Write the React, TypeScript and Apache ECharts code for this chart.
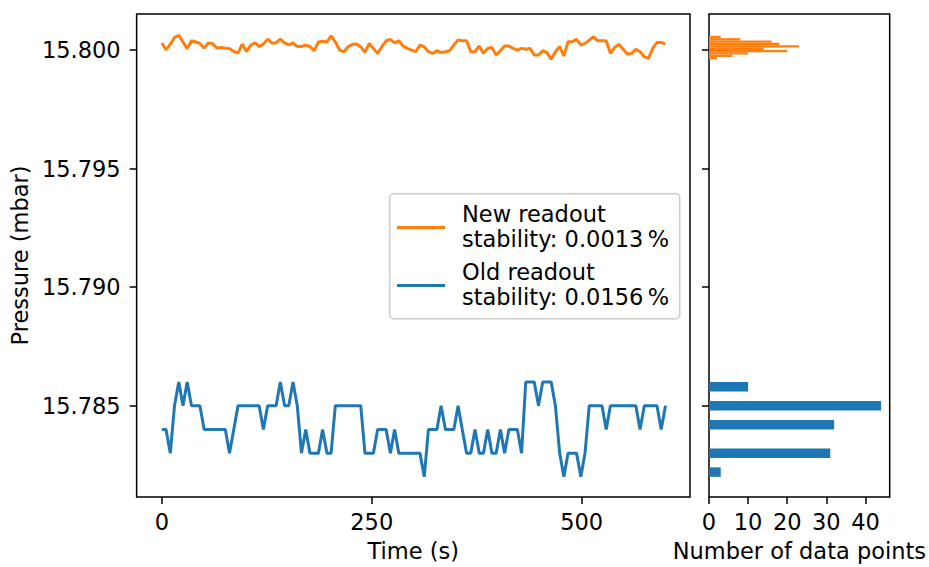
import React, { useEffect, useRef } from "react";
import * as echarts from "echarts";

// Time stamps (s)
const times = [
  0, 5.0, 10.1, 15.1, 20.2, 25.2, 30.2, 35.3, 40.3, 45.4,
  50.4, 55.4, 60.5, 65.5, 70.6, 75.6, 80.6, 85.7, 90.7, 95.8,
  100.8, 105.8, 110.9, 115.9, 121.0, 126.0, 131.0, 136.1, 141.1, 146.2,
  151.2, 156.2, 161.3, 166.3, 171.4, 176.4, 181.4, 186.5, 191.5, 196.6,
  201.6, 206.6, 211.7, 216.7, 221.8, 226.8, 231.8, 236.9, 241.9, 247.0,
  252.0, 257.0, 262.1, 267.1, 272.2, 277.2, 282.2, 287.3, 292.3, 297.4,
  302.4, 307.4, 312.5, 317.5, 322.6, 327.6, 332.6, 337.7, 342.7, 347.8,
  352.8, 357.8, 362.9, 367.9, 373.0, 378.0, 383.0, 388.1, 393.1, 398.2,
  403.2, 408.2, 413.3, 418.3, 423.4, 428.4, 433.4, 438.5, 443.5, 448.6,
  453.6, 458.6, 463.7, 468.7, 473.8, 478.8, 483.8, 488.9, 493.9, 499.0,
  504.0, 509.0, 514.1, 519.1, 524.2, 529.2, 534.2, 539.3, 544.3, 549.4,
  554.4, 559.4, 564.5, 569.5, 574.6, 579.6, 584.6, 589.7, 594.7, 599.8,
];

// Old readout pressure (mbar)
const oldReadout = [
  15.784, 15.784, 15.783, 15.785, 15.786, 15.785, 15.786, 15.785, 15.785, 15.785,
  15.784, 15.784, 15.784, 15.784, 15.784, 15.784, 15.783, 15.784, 15.785, 15.785,
  15.785, 15.785, 15.785, 15.785, 15.784, 15.785, 15.785, 15.785, 15.786, 15.785,
  15.785, 15.786, 15.785, 15.783, 15.784, 15.783, 15.783, 15.783, 15.784, 15.783,
  15.783, 15.785, 15.785, 15.785, 15.785, 15.785, 15.785, 15.785, 15.783, 15.783,
  15.783, 15.784, 15.784, 15.784, 15.783, 15.784, 15.783, 15.783, 15.783, 15.783,
  15.783, 15.783, 15.782, 15.784, 15.784, 15.784, 15.785, 15.784, 15.784, 15.784,
  15.785, 15.784, 15.783, 15.783, 15.784, 15.783, 15.783, 15.784, 15.783, 15.783,
  15.784, 15.783, 15.784, 15.784, 15.784, 15.783, 15.786, 15.786, 15.786, 15.785,
  15.786, 15.786, 15.786, 15.785, 15.783, 15.782, 15.783, 15.783, 15.783, 15.782,
  15.783, 15.785, 15.785, 15.785, 15.785, 15.784, 15.785, 15.785, 15.785, 15.785,
  15.785, 15.785, 15.785, 15.784, 15.785, 15.785, 15.785, 15.785, 15.784, 15.785,
];

// New readout pressure (mbar)
const newReadout = [
  15.80030, 15.80001, 15.80025, 15.80053, 15.80062, 15.80034, 15.80006, 15.80039, 15.80034, 15.80028,
  15.80008, 15.80030, 15.80027, 15.80008, 15.80011, 15.80008, 15.80006, 15.79994, 15.79987, 15.80025,
  15.79994, 15.80020, 15.80030, 15.80015, 15.80025, 15.80046, 15.80030, 15.80030, 15.80046, 15.80030,
  15.80022, 15.80030, 15.80015, 15.80015, 15.80020, 15.80015, 15.79997, 15.80034, 15.80037, 15.80034,
  15.80060, 15.80035, 15.80000, 15.79993, 15.80014, 15.80024, 15.80025, 15.80014, 15.79990, 15.80028,
  15.80007, 15.79986, 15.80014, 15.80039, 15.80045, 15.80030, 15.80039, 15.80017, 15.80007, 15.80000,
  15.79993, 15.80021, 15.80014, 15.79993, 15.79986, 15.79997, 15.79990, 15.79993, 15.79997, 15.80021,
  15.80042, 15.80039, 15.80039, 15.79993, 15.79993, 15.80017, 15.79986, 15.80007, 15.80011, 15.79979,
  15.79997, 15.80017, 15.80017, 15.80007, 15.80000, 15.80007, 15.80003, 15.80007, 15.79979, 15.79979,
  15.79997, 15.79990, 15.79961, 15.79993, 15.80014, 15.79975, 15.80035, 15.80035, 15.80045, 15.80021,
  15.80028, 15.80042, 15.80056, 15.80039, 15.80039, 15.80039, 15.79986, 15.80011, 15.80024, 15.80003,
  15.79983, 15.79986, 15.80003, 15.79993, 15.79972, 15.79965, 15.80007, 15.80032, 15.80032, 15.80025,
];

// Histogram of old readout: bin edges and counts
const oldHistEdges = [
  15.782, 15.7824, 15.7828, 15.7832, 15.7836, 15.784,
  15.7844, 15.7848, 15.7852, 15.7856, 15.786,
];
const oldHistCounts = [3, 0, 31, 0, 0, 32, 0, 44, 0, 10];

// Histogram of new readout: bin edges and counts
const newHistEdges = [
  15.79961, 15.799709, 15.799808, 15.799907, 15.800006, 15.800105,
  15.800204, 15.800303, 15.800402, 15.800501, 15.8006,
];
const newHistCounts = [2, 6, 10, 20, 14, 23, 18, 16, 8, 3];

// Axis ticks
const timeTicks = [0, 250, 500];
const pressureTicks = [15.785, 15.79, 15.795, 15.8];
const countTicks = [0, 10, 20, 30, 40];

const legendLabels = [
  "New readout\nstability: 0.0013\u2009%",
  "Old readout\nstability: 0.0156\u2009%",
];

const ORANGE = "#ff7f0e";
const BLUE = "#1f77b4";
const FONT = "DejaVu Sans";
const FS = 22.5;

function histData(edges: number[], counts: number[]) {
  const out: number[][] = [];
  counts.forEach((c, i) => {
    if (c > 0) out.push([edges[i], edges[i + 1], c]);
  });
  return out;
}

function histSeries(edges: number[], counts: number[], color: string) {
  return {
    type: "custom",
    xAxisIndex: 1,
    yAxisIndex: 1,
    clip: true,
    encode: { x: 2, y: [0, 1] },
    data: histData(edges, counts),
    renderItem: (params: any, api: any) => {
      const lo = api.value(0);
      const hi = api.value(1);
      const c = api.value(2);
      const p0 = api.coord([0, hi]);
      const p1 = api.coord([c, lo]);
      return {
        type: "rect",
        shape: { x: p0[0], y: p0[1], width: p1[0] - p0[0], height: p1[1] - p0[1] },
        style: { fill: color },
      };
    },
  };
}

const tickStyle = { show: true, length: 7, lineStyle: { color: "#000", width: 1.5 } };
const labelStyle = { color: "#000", fontSize: FS, fontFamily: FONT };
const noLine = { show: false, onZero: false };

export default function App() {
  const ref = useRef<HTMLDivElement>(null);
  useEffect(() => {
    if (!ref.current) return;
    const chart = echarts.init(ref.current, undefined, { renderer: "svg" });
    const yMin = 15.78115;
    const yMax = 15.80152;
    const option: any = {
      animation: false,
      backgroundColor: "#fff",
      textStyle: { fontFamily: FONT },
      grid: [
        { left: 136, top: 14, width: 554, height: 483, show: true, borderColor: "#000", borderWidth: 1.5, backgroundColor: "transparent" },
        { left: 709, top: 14, width: 184, height: 483, show: true, borderColor: "#000", borderWidth: 1.5, backgroundColor: "transparent" },
      ],
      xAxis: [
        {
          type: "value", gridIndex: 0, min: -30, max: 629,
          axisLine: noLine, splitLine: { show: false },
          axisTick: { ...tickStyle, customValues: timeTicks },
          axisLabel: { ...labelStyle, margin: 13, customValues: timeTicks },
          name: "Time (s)", nameLocation: "middle", nameGap: 42,
          nameTextStyle: { ...labelStyle },
        },
        {
          type: "value", gridIndex: 1, min: 0, max: 46.2,
          axisLine: noLine, splitLine: { show: false },
          axisTick: { ...tickStyle, customValues: countTicks },
          axisLabel: { ...labelStyle, margin: 13, customValues: countTicks },
          name: "Number of data points", nameLocation: "middle", nameGap: 42,
          nameTextStyle: { ...labelStyle },
        },
      ],
      yAxis: [
        {
          type: "value", gridIndex: 0, min: yMin, max: yMax,
          axisLine: noLine, splitLine: { show: false },
          axisTick: { ...tickStyle, customValues: pressureTicks },
          axisLabel: {
            ...labelStyle, margin: 16, customValues: pressureTicks,
            formatter: (v: number) => v.toFixed(3),
          },
          name: "Pressure (mbar)", nameLocation: "middle", nameGap: 102,
          nameTextStyle: { ...labelStyle },
        },
        {
          type: "value", gridIndex: 1, min: yMin, max: yMax,
          axisLine: noLine, splitLine: { show: false },
          axisTick: { ...tickStyle, customValues: pressureTicks },
          axisLabel: { show: false },
        },
      ],
      series: [
        {
          type: "line", xAxisIndex: 0, yAxisIndex: 0, showSymbol: false,
          data: times.map((t, i) => [t, oldReadout[i]]),
          lineStyle: { color: BLUE, width: 3 }, itemStyle: { color: BLUE },
        },
        {
          type: "line", xAxisIndex: 0, yAxisIndex: 0, showSymbol: false,
          data: times.map((t, i) => [t, newReadout[i]]),
          lineStyle: { color: ORANGE, width: 3 }, itemStyle: { color: ORANGE },
        },
        histSeries(oldHistEdges, oldHistCounts, BLUE),
        histSeries(newHistEdges, newHistCounts, ORANGE),
      ],
      graphic: [
        {
          type: "rect", left: 389, top: 193, z: 10,
          shape: { width: 290, height: 125, r: 4 },
          style: { fill: "#fff", stroke: "#cccccc", lineWidth: 1.5 },
        },
        {
          type: "line", z: 11,
          shape: { x1: 397, y1: 227.5, x2: 445, y2: 227.5 },
          style: { stroke: ORANGE, lineWidth: 3 },
        },
        {
          type: "line", z: 11,
          shape: { x1: 397, y1: 285.5, x2: 445, y2: 285.5 },
          style: { stroke: BLUE, lineWidth: 3 },
        },
        {
          type: "text", z: 11, x: 462, y: 226,
          style: {
            text: legendLabels[0], fill: "#000", font: `${FS}px "${FONT}"`,
            lineHeight: 25, verticalAlign: "middle", align: "left",
          },
        },
        {
          type: "text", z: 11, x: 462, y: 284,
          style: {
            text: legendLabels[1], fill: "#000", font: `${FS}px "${FONT}"`,
            lineHeight: 25, verticalAlign: "middle", align: "left",
          },
        },
      ],
    };
    chart.setOption(option);
    return () => chart.dispose();
  }, []);
  return (
    <div
      ref={ref}
      style={{ position: "fixed", left: 0, top: 0, width: 929, height: 567, background: "#fff" }}
    />
  );
}
